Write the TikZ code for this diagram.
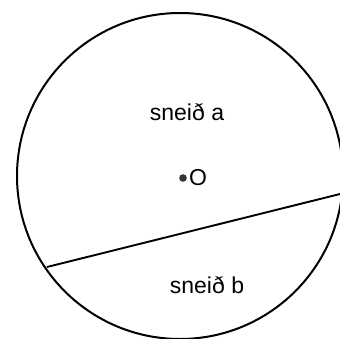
\documentclass[tikz,border=0pt]{standalone}
\usepackage{fontspec}
\setmainfont{Liberation Sans}
\usetikzlibrary{positioning}
\newcommand{\disk}{(180,176) circle (163)}

\begin{document}
\begin{tikzpicture}[x=1pt,y=-1pt,
  lbl/.style={font=\fontsize{23}{25}\selectfont, inner sep=0pt}]
\useasboundingbox (0,0) rectangle (340,338);
\clip (0,0) rectangle (340,338);
\draw[line width=2pt] \disk;
\coordinate (chordL) at (47,267);
\coordinate (chordR) at (344,193);
\draw[line width=1.9pt] (chordL) -- (chordR);
\fill[black!80] (183,178) circle (3.8) coordinate (ctr);
\node[lbl, right=6pt of ctr] (O) {O};
\node[lbl] (sa) at (187,112) {sneið a};
\node[lbl] (sb) at (207,285) {sneið b};
\end{tikzpicture}
\end{document}
